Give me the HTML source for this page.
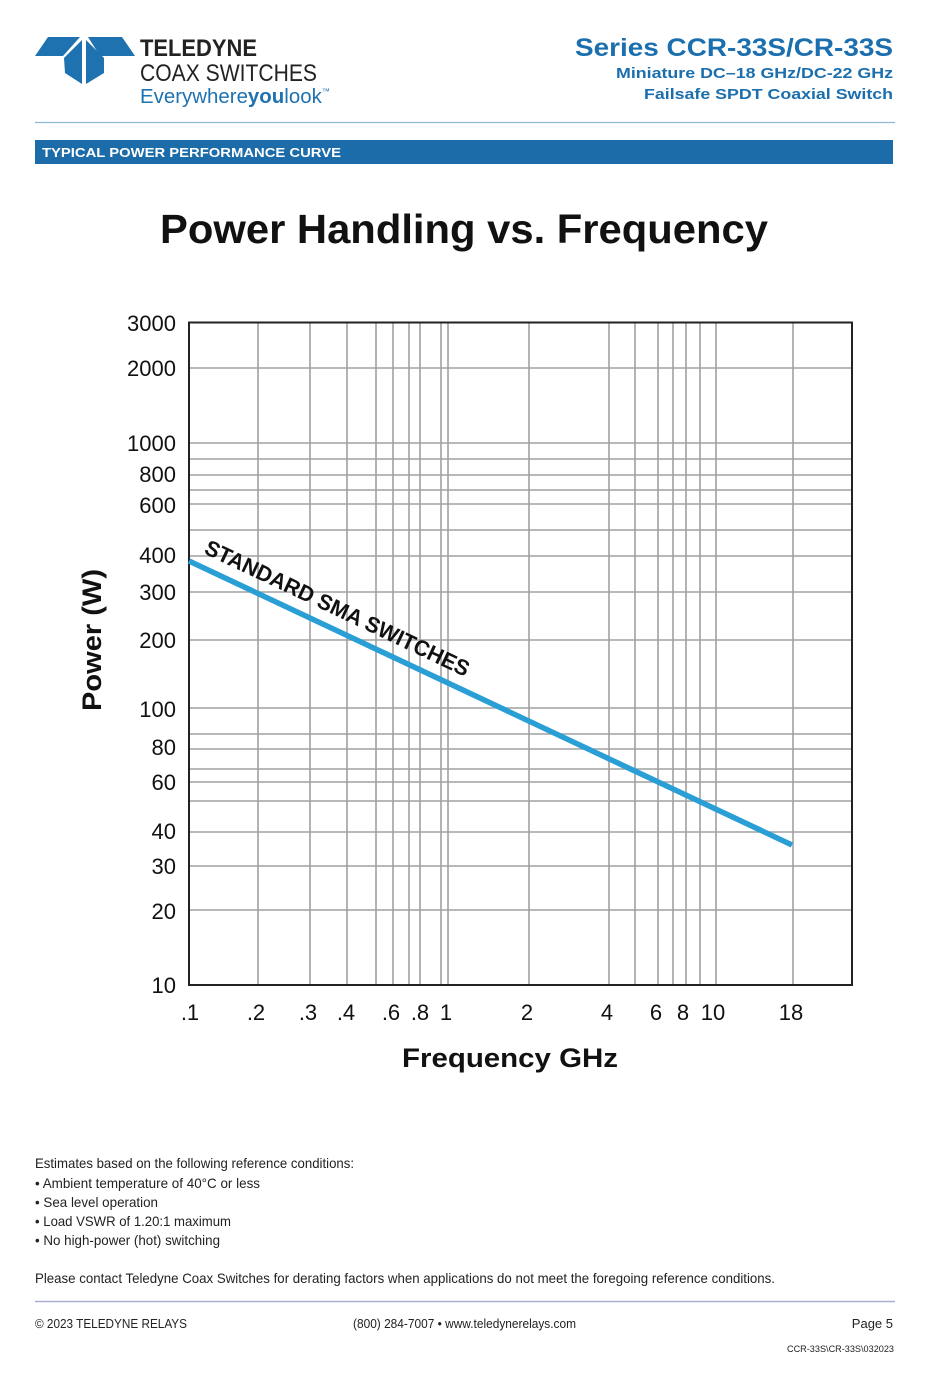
<!DOCTYPE html>
<html><head><meta charset="utf-8"><style>
html,body{margin:0;padding:0;background:#fff}
svg{display:block}
text{font-family:"Liberation Sans",Arial,sans-serif}
</style></head><body>
<svg width="945" height="1378" viewBox="0 0 945 1378" xmlns="http://www.w3.org/2000/svg">
<!-- logo -->
<g fill="#1f72b0">
<polygon points="35,56 48,37 80,37 63,56"/>
<polygon points="88,37 122,37 135,56 100,56"/>
<polygon points="82,40 64,58 65,73 82,84"/>
<polygon points="86,40 104,58 104,73 86,84"/>
</g>
<text x="140" y="56" font-size="24" font-weight="bold" fill="#222" textLength="117" lengthAdjust="spacingAndGlyphs">TELEDYNE</text>
<text x="140" y="81" font-size="24" fill="#222" textLength="177" lengthAdjust="spacingAndGlyphs">COAX SWITCHES</text>
<text x="140" y="103" font-size="20" fill="#1f72b0" textLength="190" lengthAdjust="spacingAndGlyphs">Everywhere<tspan font-weight="bold">you</tspan>look<tspan font-size="8" dy="-9">™</tspan></text>
<!-- header right -->
<text x="893" y="56" font-size="25" font-weight="bold" fill="#1b6fae" text-anchor="end" textLength="318" lengthAdjust="spacingAndGlyphs">Series CCR-33S/CR-33S</text>
<text x="893" y="78" font-size="15" font-weight="bold" fill="#1b6fae" text-anchor="end" textLength="277" lengthAdjust="spacingAndGlyphs">Miniature DC–18 GHz/DC-22 GHz</text>
<text x="893" y="99" font-size="15" font-weight="bold" fill="#1b6fae" text-anchor="end" textLength="249" lengthAdjust="spacingAndGlyphs">Failsafe SPDT Coaxial Switch</text>
<line x1="35" y1="122.5" x2="895" y2="122.5" stroke="#8bb8d8" stroke-width="1.2"/>
<rect x="35" y="140" width="858" height="24" fill="#1b6ca8"/>
<text x="42" y="157" font-size="13" font-weight="bold" fill="#fff" textLength="299" lengthAdjust="spacingAndGlyphs">TYPICAL POWER PERFORMANCE CURVE</text>
<!-- title -->
<text x="464" y="243" font-size="41" font-weight="bold" fill="#111" text-anchor="middle" textLength="608" lengthAdjust="spacingAndGlyphs">Power Handling vs. Frequency</text>
<!-- grid -->
<g stroke="#a0a0a0" stroke-width="1.6">
<line x1="258" y1="322" x2="258" y2="985"/><line x1="310" y1="322" x2="310" y2="985"/>
<line x1="347" y1="322" x2="347" y2="985"/><line x1="376" y1="322" x2="376" y2="985"/>
<line x1="393" y1="322" x2="393" y2="985"/><line x1="409" y1="322" x2="409" y2="985"/>
<line x1="420" y1="322" x2="420" y2="985"/><line x1="441" y1="322" x2="441" y2="985"/>
<line x1="448" y1="322" x2="448" y2="985"/><line x1="529" y1="322" x2="529" y2="985"/>
<line x1="609" y1="322" x2="609" y2="985"/><line x1="635" y1="322" x2="635" y2="985"/>
<line x1="658" y1="322" x2="658" y2="985"/><line x1="673" y1="322" x2="673" y2="985"/>
<line x1="686" y1="322" x2="686" y2="985"/><line x1="700" y1="322" x2="700" y2="985"/>
<line x1="716" y1="322" x2="716" y2="985"/><line x1="793" y1="322" x2="793" y2="985"/>
<line x1="189" y1="368" x2="852" y2="368"/><line x1="189" y1="443" x2="852" y2="443"/>
<line x1="189" y1="459" x2="852" y2="459"/><line x1="189" y1="475" x2="852" y2="475"/>
<line x1="189" y1="490" x2="852" y2="490"/><line x1="189" y1="504" x2="852" y2="504"/>
<line x1="189" y1="530" x2="852" y2="530"/><line x1="189" y1="556" x2="852" y2="556"/>
<line x1="189" y1="592" x2="852" y2="592"/><line x1="189" y1="640" x2="852" y2="640"/>
<line x1="189" y1="708" x2="852" y2="708"/><line x1="189" y1="734" x2="852" y2="734"/>
<line x1="189" y1="749" x2="852" y2="749"/><line x1="189" y1="769" x2="852" y2="769"/>
<line x1="189" y1="782" x2="852" y2="782"/><line x1="189" y1="801" x2="852" y2="801"/>
<line x1="189" y1="832" x2="852" y2="832"/><line x1="189" y1="866" x2="852" y2="866"/>
<line x1="189" y1="910" x2="852" y2="910"/>
</g>
<rect x="189" y="322.5" width="663" height="662.5" fill="none" stroke="#222" stroke-width="2"/>
<!-- series -->
<line x1="189" y1="561" x2="792" y2="845" stroke="#2a9fd6" stroke-width="5.5"/>
<text transform="translate(203,553) rotate(25.3)" font-size="22" font-weight="bold" fill="#111" textLength="290" lengthAdjust="spacingAndGlyphs">STANDARD SMA SWITCHES</text>
<!-- y labels -->
<g font-size="22" fill="#111" text-anchor="end">
<text x="176" y="331">3000</text><text x="176" y="376">2000</text><text x="176" y="451">1000</text>
<text x="176" y="482">800</text><text x="176" y="513">600</text><text x="176" y="563">400</text>
<text x="176" y="600">300</text><text x="176" y="648">200</text><text x="176" y="717">100</text>
<text x="176" y="755">80</text><text x="176" y="790">60</text><text x="176" y="839">40</text>
<text x="176" y="874">30</text><text x="176" y="919">20</text><text x="176" y="993">10</text>
</g>
<!-- x labels -->
<g font-size="22" fill="#111" text-anchor="middle">
<text x="190" y="1020">.1</text><text x="256" y="1020">.2</text><text x="308" y="1020">.3</text>
<text x="346" y="1020">.4</text><text x="391" y="1020">.6</text><text x="420" y="1020">.8</text>
<text x="446" y="1020">1</text><text x="527" y="1020">2</text><text x="607" y="1020">4</text>
<text x="656" y="1020">6</text><text x="683" y="1020">8</text><text x="713" y="1020">10</text>
<text x="791" y="1020">18</text>
</g>
<text x="510" y="1067" font-size="27" font-weight="bold" fill="#111" text-anchor="middle" textLength="216" lengthAdjust="spacingAndGlyphs">Frequency GHz</text>
<text transform="translate(101,640) rotate(-90)" font-size="27" font-weight="bold" fill="#111" text-anchor="middle" textLength="142" lengthAdjust="spacingAndGlyphs">Power (W)</text>
<!-- notes -->
<g font-size="14" fill="#222">
<text x="35" y="1168" textLength="319" lengthAdjust="spacingAndGlyphs">Estimates based on the following reference conditions:</text>
<text x="35" y="1188" textLength="225" lengthAdjust="spacingAndGlyphs">• Ambient temperature of 40°C or less</text>
<text x="35" y="1207" textLength="123" lengthAdjust="spacingAndGlyphs">• Sea level operation</text>
<text x="35" y="1226" textLength="196" lengthAdjust="spacingAndGlyphs">• Load VSWR of 1.20:1 maximum</text>
<text x="35" y="1245" textLength="185" lengthAdjust="spacingAndGlyphs">• No high-power (hot) switching</text>
<text x="35" y="1283" textLength="740" lengthAdjust="spacingAndGlyphs">Please contact Teledyne Coax Switches for derating factors when applications do not meet the foregoing reference conditions.</text>
</g>
<line x1="35" y1="1301.5" x2="895" y2="1301.5" stroke="#a8aed0" stroke-width="1.5"/>
<g font-size="13" fill="#222">
<text x="35" y="1328" textLength="152" lengthAdjust="spacingAndGlyphs">© 2023 TELEDYNE RELAYS</text>
<text x="353" y="1328" textLength="223" lengthAdjust="spacingAndGlyphs">(800) 284-7007 • www.teledynerelays.com</text>
<text x="893" y="1328" text-anchor="end">Page 5</text>
<text x="894" y="1352" font-size="9" text-anchor="end" textLength="107" lengthAdjust="spacingAndGlyphs">CCR-33S\CR-33S\032023</text>
</g>
</svg>
</body></html>
